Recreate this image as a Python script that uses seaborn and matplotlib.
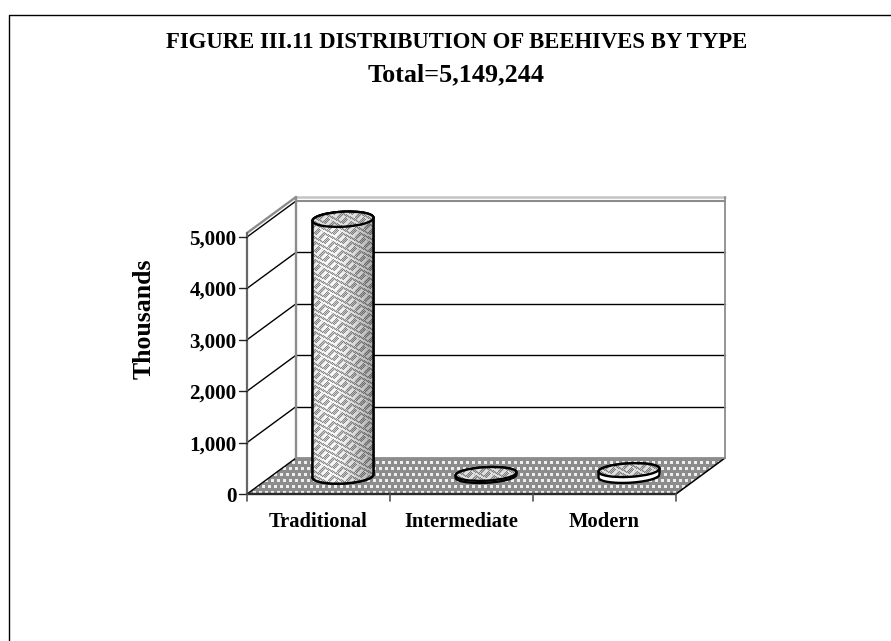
import numpy as np
import matplotlib
matplotlib.use("Agg")
import matplotlib.pyplot as plt
import seaborn as sns
from matplotlib.lines import Line2D
from matplotlib.patches import Ellipse, Polygon
from matplotlib.transforms import Affine2D, IdentityTransform

# Values (thousands)
categories = ['Traditional', 'Intermediate', 'Modern']
hives = [4995, 40, 114]
y_ticks = [0, 1000, 2000, 3000, 4000, 5000]
y_tick_labels = ['0', '1,000', '2,000', '3,000', '4,000', '5,000']

W, H = 891, 641
DEPTH = (49, 36)      # how far the back wall sits from the front plane, pixels

sns.set_theme(style='white')
plt.rcParams['font.family'] = ['Liberation Serif', 'DejaVu Serif']
plt.rcParams['font.weight'] = 'bold'

fig = plt.figure(figsize=(W / 100, H / 100), dpi=100)
ax = fig.add_axes([247 / W, 1 - 494 / H, 429 / W, 257 / H])
ax.patch.set_alpha(0)

# barplot fixes the category scale and the widths, the cylinders are built on its bars
sns.barplot(x=categories, y=hives, ax=ax, width=61 / 143, color='white', zorder=5)
ax.set_xlim(-0.5, 2.5)
ax.set_ylim(0, 5000)
ax.set_xlabel('')
ax.set_ylabel('')
ax.set_yticks(y_ticks, y_tick_labels)
ax.set_xticks(np.arange(len(categories)), categories)
ax.tick_params(axis='y', length=0, labelsize=15.2, labelcolor='black', pad=7.5)
ax.tick_params(axis='x', length=0, labelsize=14.8, labelcolor='black', pad=13.3)
for s in ax.spines.values():
    s.set_visible(False)
fig.canvas.draw()


def px(x, y):
    return ax.transData.transform((x, y))


def texture_weave(nx, ny, shaded=True):
    # zigzag weave, optionally with the left-to-right shading of the cylinder
    yy, xx = np.mgrid[0:ny, 0:nx]
    block = (xx + yy) // 9 % 2
    light = np.where(block == 0, (xx - yy) % 9 < 4, (xx + 2 * yy) % 9 < 4)
    fine = (xx + yy) % 2 == 0
    base = np.where(light, 0.97, np.where(fine, 0.55, 0.8))
    if not shaded:
        return base * 0.9
    u = xx / max(nx - 1, 1)
    shade = 1.0 - 0.6 * np.clip(u - 0.35, 0, 1) ** 1.4 - 0.4 * np.clip(0.2 - u, 0, 1)
    return np.clip(base * shade, 0, 1)


def texture_dots(nx, ny):
    # grey floor with rows of pale dots
    yy, xx = np.mgrid[0:ny, 0:nx]
    dots = (yy % 6 < 3) & (((xx + 3 * (yy // 6 % 2)) % 6) < 3)
    return np.where(dots, 0.93, 0.55)


def screen_image(data, x0, y0, clip, z):
    h, w = data.shape
    im = ax.imshow(data, cmap='gray', vmin=0, vmax=1, origin='lower', aspect='auto',
                   interpolation='nearest', zorder=z)
    im.set_extent((0, w, 0, h))
    im.set_transform(Affine2D().translate(x0, y0))
    im.set_clip_box(fig.bbox)
    im.set_clip_path(clip)
    ax.set_xlim(-0.5, 2.5)
    ax.set_ylim(0, 5000)
    return im


def add_line(p, q, color='black', lw=1.0, z=2):
    ax.add_artist(Line2D([p[0], q[0]], [p[1], q[1]], transform=IdentityTransform(),
                         color=color, lw=lw, zorder=z, clip_on=False))


def ellipse_arc(c, w, h, tilt, start, stop):
    t = np.radians(np.linspace(start, stop, 40))
    a = np.radians(tilt)
    ex, ey = w / 2 * np.cos(t), h / 2 * np.sin(t)
    return np.column_stack([c[0] + ex * np.cos(a) - ey * np.sin(a),
                            c[1] + ex * np.sin(a) + ey * np.cos(a)])


dx, dy = DEPTH
fl, fr = px(-0.5, 0), px(2.5, 0)
tl, tr = px(-0.5, 5000), px(2.5, 5000)
back = lambda p: (p[0] + dx, p[1] + dy)

# floor
floor = Polygon([fl, fr, back(fr), back(fl)], closed=True, transform=IdentityTransform(),
                facecolor='none', edgecolor='none', clip_on=False)
ax.add_patch(floor)
screen_image(texture_dots(int(fr[0] - fl[0] + dx) + 2, int(dy) + 2), fl[0], fl[1], floor, 1)
add_line(fr, back(fr), lw=1.1, z=3)

# walls, gridlines
grey = '#8c8c8c'
for v in y_ticks:
    p, q = px(-0.5, v), px(2.5, v)
    if 0 < v < 5000:
        add_line(back(p), back(q), lw=1.0)
    if v < 5000:
        add_line(p, back(p), lw=1.0)
lift = 4
add_line(back(tl), back(tr), color=grey, lw=1.5, z=3)
add_line((tl[0] + dx, tl[1] + dy + lift), (tr[0] + dx, tr[1] + dy + lift), color='#c4c4c4', lw=1.8, z=3)
add_line(tl, back(tl), lw=1.0)
add_line((tl[0], tl[1] + lift), (tl[0] + dx, tl[1] + dy + lift), color=grey, lw=1.7, z=3)
add_line(back(fl), (tl[0] + dx, tl[1] + dy + lift), color=grey, lw=1.7, z=3)
add_line(back(fr), (tr[0] + dx, tr[1] + dy + lift), color=grey, lw=1.3, z=3)
add_line(back(fl), back(fr), color=grey, lw=1.3, z=3)

# front axis lines and ticks
add_line(fl, (tl[0], tl[1] + lift), color='#666666', lw=1.6, z=4)
add_line(fl, fr, color='#2a2a2a', lw=1.7, z=4)
for v in y_ticks:
    p = px(-0.5, v)
    add_line((p[0] - 8, p[1]), p, color='#222222', lw=1.0, z=4)
for i in range(len(categories) + 1):
    p = px(i - 0.5, 0)
    add_line(p, (p[0], p[1] - 7), color='#555555', lw=1.2, z=4)

# each seaborn bar becomes a cylinder standing in the middle of the depth
bars = list(ax.patches)
tilt = 3
for bar, val in zip(bars, hives):
    bar.set_visible(False)
    cx = bar.get_x() + bar.get_width() / 2
    b, t = px(cx, 0), px(cx, val)
    b = (b[0] + dx / 2, b[1] + dy / 2)
    t = (t[0] + dx / 2, t[1] + dy / 2)
    w = px(bar.get_x() + bar.get_width(), 0)[0] - px(bar.get_x(), 0)[0]
    h = 15 if val > 1000 else 13.5
    outline = np.vstack([ellipse_arc(b, w, h, tilt, 180, 360),
                         ellipse_arc(t, w, h, tilt, 0, 180)])
    body = Polygon(outline, closed=True, transform=IdentityTransform(),
                   facecolor='white', edgecolor='black', lw=1.7, zorder=6, clip_on=False)
    ax.add_patch(body)
    if val > 1000:
        clip = Polygon(outline, closed=True, transform=IdentityTransform(),
                       facecolor='none', edgecolor='none', clip_on=False)
        ax.add_patch(clip)
        screen_image(texture_weave(int(w) + 2, int(t[1] - b[1] + h) + 2),
                     b[0] - w / 2 - 1, b[1] - h / 2, clip, 6.5)
        outline_only = Polygon(outline, closed=True, transform=IdentityTransform(),
                               facecolor='none', edgecolor='black', lw=1.7, zorder=7, clip_on=False)
        ax.add_patch(outline_only)
    top_clip = Ellipse((0, 0), w, h, angle=tilt, transform=Affine2D().translate(*t),
                       facecolor='none', edgecolor='none', clip_on=False)
    ax.add_patch(top_clip)
    screen_image(texture_weave(int(w) + 2, int(h) + 4, shaded=False),
                 t[0] - w / 2 - 1, t[1] - h / 2 - 2, top_clip, 8)
    top_edge = Ellipse((0, 0), w, h, angle=tilt, transform=Affine2D().translate(*t),
                       facecolor='none', edgecolor='black', lw=1.7, zorder=9, clip_on=False)
    ax.add_patch(top_edge)

# chart titles
fig.text(456.5 / W, 1 - 43 / H, 'FIGURE III.11 DISTRIBUTION OF BEEHIVES BY TYPE', ha='center',
         va='center', fontsize=16.4, fontweight='bold', color='black')
fig.text(456.5 / W, 1 - 75 / H, 'Total=5,149,244', ha='center', va='center', fontsize=18.8,
         fontweight='bold', color='black')
fig.text(144 / W, 1 - 319 / H, 'Thousands', rotation=90, ha='center', va='center', fontsize=18.5,
         fontweight='bold', color='black')

# outer frame: left and top only
fig.add_artist(Line2D([8.5 / W, 8.5 / W, 1], [0, 1 - 14.5 / H, 1 - 14.5 / H],
                      transform=fig.transFigure, color='black', lw=1.0))

fig.savefig('out.png', dpi=100)
